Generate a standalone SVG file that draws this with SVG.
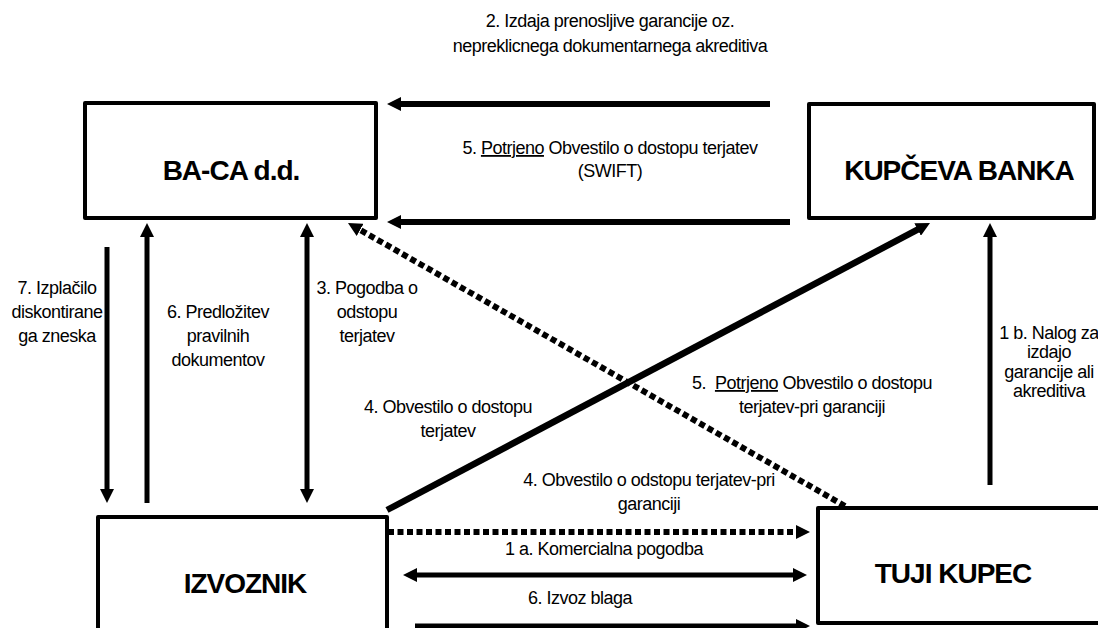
<svg xmlns="http://www.w3.org/2000/svg" width="1098" height="628" viewBox="0 0 1098 628">
<style>
.box{fill:#fff;stroke:#000;stroke-width:4;stroke-linejoin:round}
.title{font-family:"Liberation Sans",Arial,sans-serif;font-weight:bold;font-size:28px;letter-spacing:-1px;text-anchor:middle;fill:#000}
.lbl{font-family:"Liberation Sans",Arial,sans-serif;font-size:18px;letter-spacing:-0.5px;text-anchor:middle;fill:#000}
.ln{fill:none;stroke:#000}
.w6{stroke-width:6}
.w5{stroke-width:5}
.dot{stroke-width:6;stroke-dasharray:6 3.5}
</style>
<defs>
<marker id="ah" viewBox="0 0 14 14" refX="2" refY="7" markerWidth="14" markerHeight="14" markerUnits="userSpaceOnUse" orient="auto-start-reverse"><path d="M0,0 L14,7 L0,14 z" fill="#000"/></marker>
</defs>
<rect width="1098" height="628" fill="#fff"/>

<g id="baca">
<rect class="box" x="85" y="103" width="291" height="115"/>
<text class="title" x="231" y="180">BA-CA d.d.</text>
</g>
<g id="kupceva-banka">
<rect class="box" x="809" y="104" width="285" height="114"/>
<text class="title" x="959" y="180">KUPČEVA BANKA</text>
</g>
<g id="izvoznik">
<rect class="box" x="98" y="517" width="289" height="130"/>
<text class="title" x="245" y="593">IZVOZNIK</text>
</g>
<g id="tuji-kupec">
<rect class="box" x="818" y="508" width="300" height="115"/>
<text class="title" x="953" y="583">TUJI KUPEC</text>
</g>

<g id="connectors">
<line class="ln w6" x1="770" y1="104" x2="399" y2="104" marker-end="url(#ah)"/>
<line class="ln w6" x1="790" y1="222" x2="399" y2="222" marker-end="url(#ah)"/>
<line class="ln w5" x1="107" y1="247" x2="107" y2="491" marker-end="url(#ah)"/>
<line class="ln w5" x1="147" y1="503" x2="147" y2="235" marker-end="url(#ah)"/>
<line class="ln w5" x1="307" y1="235" x2="307" y2="491" marker-start="url(#ah)" marker-end="url(#ah)"/>
<line class="ln w5" x1="990" y1="485" x2="990" y2="235" marker-end="url(#ah)"/>
<line class="ln" stroke-width="6.5" x1="387" y1="510" x2="919.4" y2="228.6" marker-end="url(#ah)"/>
<line class="ln dot" x1="845" y1="506" x2="358.4" y2="228.9" marker-end="url(#ah)"/>
<line class="ln dot" x1="388" y1="532" x2="798" y2="532" marker-end="url(#ah)"/>
<line class="ln w5" x1="415" y1="575" x2="795" y2="575" marker-start="url(#ah)" marker-end="url(#ah)"/>
<line class="ln w5" x1="415" y1="626" x2="798" y2="626" marker-end="url(#ah)"/>
</g>

<g id="labels">
<text class="lbl" x="610" y="27">2. Izdaja prenosljive garancije oz.</text>
<text class="lbl" x="610" y="52">nepreklicnega dokumentarnega akreditiva</text>
<text class="lbl" x="610" y="154">5. <tspan text-decoration="underline">Potrjeno</tspan> Obvestilo o dostopu terjatev</text>
<text class="lbl" x="610" y="177">(SWIFT)</text>

<text class="lbl" x="57" y="294">7. Izplačilo</text>
<text class="lbl" x="57" y="318">diskontirane</text>
<text class="lbl" x="57" y="342">ga zneska</text>

<text class="lbl" x="218" y="318">6. Predložitev</text>
<text class="lbl" x="218" y="342">pravilnih</text>
<text class="lbl" x="218" y="366">dokumentov</text>

<text class="lbl" x="367" y="294">3. Pogodba o</text>
<text class="lbl" x="367" y="318">odstopu</text>
<text class="lbl" x="367" y="342">terjatev</text>

<text class="lbl" x="1049" y="339">1 b. Nalog za</text>
<text class="lbl" x="1049" y="358">izdajo</text>
<text class="lbl" x="1049" y="378">garancije ali</text>
<text class="lbl" x="1049" y="397">akreditiva</text>

<text class="lbl" x="812" y="389" xml:space="preserve">5.  <tspan text-decoration="underline">Potrjeno</tspan> Obvestilo o dostopu</text>
<text class="lbl" x="812" y="413">terjatev-pri garanciji</text>

<text class="lbl" x="448" y="413">4. Obvestilo o dostopu</text>
<text class="lbl" x="448" y="437">terjatev</text>

<text class="lbl" x="649" y="486">4. Obvestilo o odstopu terjatev-pri</text>
<text class="lbl" x="649" y="510">garanciji</text>

<text class="lbl" x="604" y="555">1 a. Komercialna pogodba</text>
<text class="lbl" x="580" y="604">6. Izvoz blaga</text>
</g>
</svg>
